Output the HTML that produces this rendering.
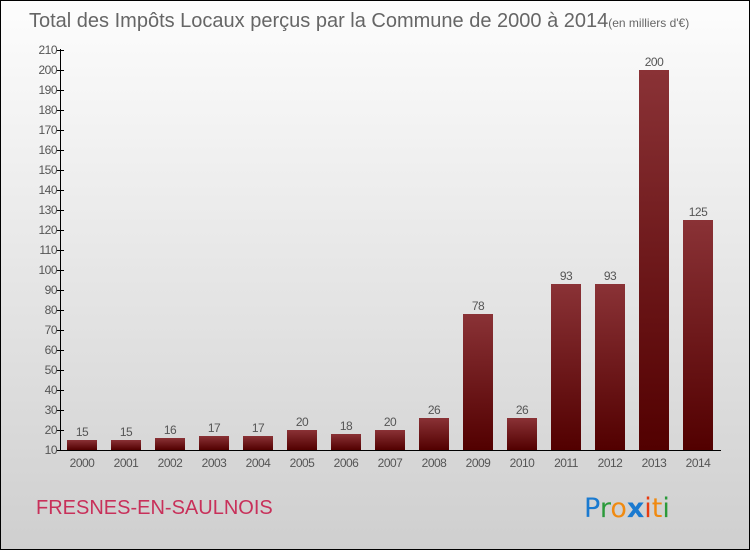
<!DOCTYPE html>
<html><head><meta charset="utf-8"><style>
html,body{margin:0;padding:0;}
#wrap{position:relative;width:748px;height:548px;border:1px solid #000;background:linear-gradient(#fdfdfd,#cfcfcf);font-family:"Liberation Sans",sans-serif;overflow:hidden;}
svg{position:absolute;left:0;top:0;}
</style></head><body>
<div id="wrap">
<svg id="chart" width="748" height="548">
<defs><linearGradient id="bg" x1="0" y1="0" x2="0" y2="1"><stop offset="0" stop-color="#8a3236"/><stop offset="1" stop-color="#520000"/></linearGradient></defs>
<text x="28" y="26" font-size="20" fill="#666">Total des Impôts Locaux perçus par la Commune de 2000 à 2014<tspan font-size="12">(en milliers d'€)</tspan></text>
<text x="35" y="513" font-size="20" fill="#c8305a">FRESNES-EN-SAULNOIS</text>
<g font-size="27" font-family="'DejaVu Sans',sans-serif">
<text x="583" y="516"><tspan fill="#1a7ad0">P</tspan><tspan fill="#2a9a3a">r</tspan><tspan fill="#f08a10">o</tspan><tspan fill="#1a7ad0" font-weight="bold">x</tspan><tspan fill="#e83a10">i</tspan><tspan fill="#f08a10">t</tspan><tspan fill="#2a9a3a">i</tspan></text>
</g>
<g id="axis"></g><g id="bars"></g>
</svg>
</div>
<script>
const years=["2000","2001","2002","2003","2004","2005","2006","2007","2008","2009","2010","2011","2012","2013","2014"];
const values=[15,15,16,17,17,20,18,20,26,78,26,93,93,200,125];
const yTicks=[10,20,30,40,50,60,70,80,90,100,110,120,130,140,150,160,170,180,190,200,210];
const NS="http://www.w3.org/2000/svg";
const y=v=>449-(v-10)*2;
const x=i=>81+44*i;
function mk(t,a,p){const e=document.createElementNS(NS,t);for(const k in a)e.setAttribute(k,a[k]);p.appendChild(e);return e;}
const ax=document.getElementById('axis'),bs=document.getElementById('bars');
const yl=mk('line',{x1:59.5,x2:59.5,y1:48,y2:450,stroke:'#000'},ax);


const xl=mk('line',{x1:59,x2:720,y1:449.5,y2:449.5,stroke:'#000'},ax);


yTicks.forEach(v=>{
 mk('line',{x1:56,x2:63,y1:y(v)+.5,y2:y(v)+.5,stroke:'#000'},ax);
 const t=mk('text',{x:56,y:y(v)+4,'font-size':12,fill:'#555','text-anchor':'end','letter-spacing':'-0.5'},ax);
 t.textContent=v;
 
 
});
years.forEach((yr,i)=>{
 const v=values[i];
 const r=mk('rect',{x:x(i)-15,y:y(v),width:30,height:449-y(v),fill:'url(#bg)'},bs);
 
 
 const l=mk('text',{x:x(i),y:y(v)-4,'font-size':12,fill:'#555','text-anchor':'middle','letter-spacing':'-0.5'},bs);
 l.textContent=v;
 
 
 const xt=mk('text',{x:x(i),y:466,'font-size':12,fill:'#555','text-anchor':'middle','letter-spacing':'-0.5'},ax);
 xt.textContent=yr;
 
 
});
</script>
</body></html>
